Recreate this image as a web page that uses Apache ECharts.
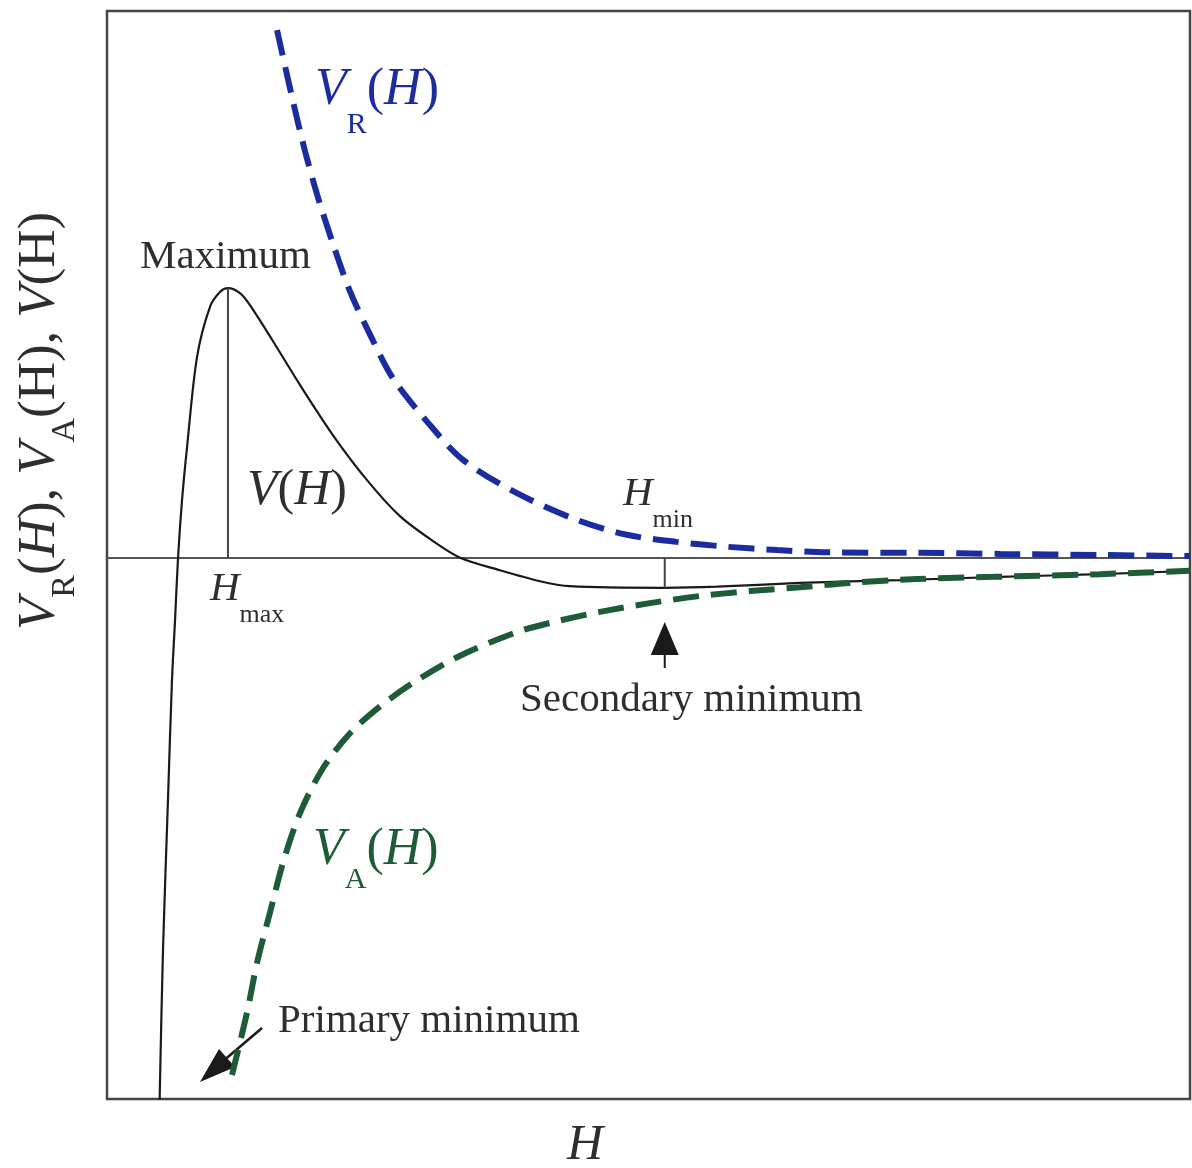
<!DOCTYPE html>
<html>
<head>
<meta charset="utf-8">
<script src="https://cdn.jsdelivr.net/npm/echarts@6/dist/echarts.min.js"></script>
<style>
  html, body { margin: 0; padding: 0; background: #fff; }
  #chart { width: 1192px; height: 1168px; }
</style>
</head>
<body>
<div id="chart"></div>
<script>
// separation distance H (arbitrary units 0..100) and potential (arbitrary units)
const hTotal = [4.85, 5.17, 5.63, 6.0, 6.28, 6.56, 6.93, 7.39, 8.31, 9.51, 10.43, 11.17, 12.28, 13.2,
  15.33, 17.82, 20.87, 24.01, 27.05, 30.1, 32.6, 36.29, 39.98, 42.75, 51.5, 56.3,
  63.99, 73.2, 82.5, 91.7, 100];
const vTotal = [-100, -71.8, -44.3, -22.4, -11.5, 0, 10.6, 20.2, 36.7, 45.9, 48.6, 49.3, 48.4, 46.2,
  39.6, 31.6, 22.4, 14.2, 7.6, 3.05, 0, -2.3, -4.3, -5.2, -5.5, -5.3,
  -4.6, -4.1, -3.5, -3.0, -2.4];

const hRep = [15.7, 17.17, 18.28, 19.39, 20.87, 22.44, 24.29, 26.41, 29.55, 32.87, 37.86, 43.4,
  48.0, 52.6, 57.3, 61.9, 66.5, 75.1, 82.5, 91.7, 100];
const vRep = [96.5, 83.5, 74.4, 66.5, 57.4, 48.7, 40.8, 32.8, 24.9, 17.9, 11.8, 6.9,
  4.2, 2.9, 2.0, 1.4, 1.0, 0.9, 0.7, 0.5, 0.3];

const hAtt = [11.54, 12.93, 13.85, 15.05, 16.25, 17.82, 19.94, 22.44, 25.21, 28.25, 32.32, 37.86,
  41.55, 45.52, 50.14, 54.76, 59.37, 63.99, 68.61, 74.79, 81.81, 91.69, 100];
const vAtt = [-94.6, -83.2, -74.1, -64.9, -55.8, -46.7, -38.5, -32.1, -27.2, -22.9, -18.2, -13.6,
  -11.6, -9.9, -8.3, -7.0, -6.1, -5.4, -4.6, -3.9, -3.5, -3.0, -2.4];

const zip = (xs, ys) => xs.map((x, i) => [x, ys[i]]);

// barrier maximum and secondary minimum of V(H)
let iMax = 0;
vTotal.forEach((v, i) => { if (v > vTotal[iMax]) iMax = i; });
let iMin = iMax;
vTotal.forEach((v, i) => { if (i > iMax && v < vTotal[iMin]) iMin = i; });

const serif = '"Liberation Serif", "Times New Roman", serif';
const textGray = '#2e2e2e';
const blue = '#1b2c9e';
const green = '#1d5c36';

const chart = echarts.init(document.getElementById('chart'));

chart.setOption({
  animation: false,
  grid: {
    left: 107, right: 2, top: 11, bottom: 69,
    show: true, borderColor: '#454545', borderWidth: 2.5
  },
  xAxis: {
    type: 'value', min: 0, max: 100,
    axisLine: { onZero: true, lineStyle: { color: '#555', width: 2 } },
    axisTick: { show: false }, axisLabel: { show: false }, splitLine: { show: false }
  },
  yAxis: {
    type: 'value', min: -99, max: 100,
    axisLine: { show: false }, axisTick: { show: false },
    axisLabel: { show: false }, splitLine: { show: false }
  },
  series: [
    {
      name: 'V(H)', type: 'line', data: zip(hTotal, vTotal), showSymbol: false,
      smooth: 0.3, clip: true,
      lineStyle: { color: '#1a1a1a', width: 2.2 }
    },
    {
      name: 'VR(H)', type: 'line', data: zip(hRep, vRep), showSymbol: false,
      smooth: 0.3, clip: true,
      lineStyle: { color: blue, width: 6, type: [26, 12] }
    },
    {
      name: 'VA(H)', type: 'line', data: zip(hAtt, vAtt), showSymbol: false,
      smooth: 0.3, clip: true,
      lineStyle: { color: green, width: 6, type: [26, 12] }
    },
    {
      name: 'Hmax', type: 'line', showSymbol: false,
      data: [[hTotal[iMax], 0], [hTotal[iMax], vTotal[iMax]]],
      lineStyle: { color: '#444', width: 2 }
    },
    {
      name: 'Hmin', type: 'line', showSymbol: false,
      data: [[hTotal[iMin], vTotal[iMin]], [hTotal[iMin], 0]],
      lineStyle: { color: '#444', width: 2 }
    }
  ]
});

// inline text runs with subscripts
const ctx = document.createElement('canvas').getContext('2d');
function run(parts, x, y, color) {
  let cx = x;
  const out = [];
  parts.forEach(p => {
    const font = (p.it ? 'italic ' : '') + p.size + 'px ' + serif;
    out.push({
      type: 'text', x: cx, y: y + (p.dy || 0), silent: true,
      style: {
        text: p.t, font: font, fill: color,
        align: 'left', textAlign: 'left', verticalAlign: 'middle', textVerticalAlign: 'middle'
      }
    });
    ctx.font = font;
    cx += ctx.measureText(p.t).width + (p.gap || 0);
  });
  return out;
}

const sx = chart.convertToPixel({ gridIndex: 0 }, [hTotal[iMin], 0])[0];

const graphic = [].concat(
  run([{ t: 'Maximum', size: 41 }], 140, 257, textGray),
  run([{ t: 'V', size: 52, it: true }, { t: 'R', size: 30, dy: 35 },
       { t: '(', size: 52 }, { t: 'H', size: 52, it: true }, { t: ')', size: 52 }], 315, 90, blue),
  run([{ t: 'V', size: 50, it: true }, { t: '(', size: 50 }, { t: 'H', size: 50, it: true },
       { t: ')', size: 50 }], 247, 491, textGray),
  run([{ t: 'H', size: 41, it: true }, { t: 'max', size: 26, dy: 26 }], 210, 589, textGray),
  run([{ t: 'H', size: 41, it: true }, { t: 'min', size: 26, dy: 26 }], 623, 494, textGray),
  run([{ t: 'Secondary minimum', size: 41 }], 520, 700, textGray),
  run([{ t: 'V', size: 52, it: true }, { t: 'A', size: 30, dy: 30 },
       { t: '(', size: 52 }, { t: 'H', size: 52, it: true }, { t: ')', size: 52 }], 313, 850, green),
  run([{ t: 'Primary minimum', size: 41 }], 278, 1021, textGray),
  run([{ t: 'H', size: 50, it: true }], 567, 1146, textGray),
  [
    {
      type: 'group', x: 0, y: 630, rotation: Math.PI / 2,
      children: run([
        { t: 'V', size: 53, it: true }, { t: 'R', size: 34, dy: 25 },
        { t: '(', size: 53 }, { t: 'H', size: 53, it: true }, { t: '), ', size: 53 },
        { t: 'V', size: 53, it: true }, { t: 'A', size: 34, dy: 25 },
        { t: '(H), ', size: 53 },
        { t: 'V', size: 53, it: true }, { t: '(H)', size: 53 }
      ], 0, 40, textGray)
    },
    // arrow to secondary minimum
    {
      type: 'polygon', silent: true,
      shape: { points: [[sx, 622], [sx - 14, 655], [sx + 14, 655]] },
      style: { fill: '#1a1a1a' }
    },
    {
      type: 'line', silent: true,
      shape: { x1: sx, y1: 655, x2: sx, y2: 668 },
      style: { stroke: '#1a1a1a', lineWidth: 2 }
    },
    // arrow to primary minimum
    {
      type: 'line', silent: true,
      shape: { x1: 262, y1: 1028, x2: 222, y2: 1062 },
      style: { stroke: '#1a1a1a', lineWidth: 2.5 }
    },
    {
      type: 'polygon', silent: true,
      shape: { points: [[200, 1082], [235, 1067], [219, 1049]] },
      style: { fill: '#1a1a1a' }
    }
  ]
);

chart.setOption({ graphic: graphic });
</script>
</body>
</html>
